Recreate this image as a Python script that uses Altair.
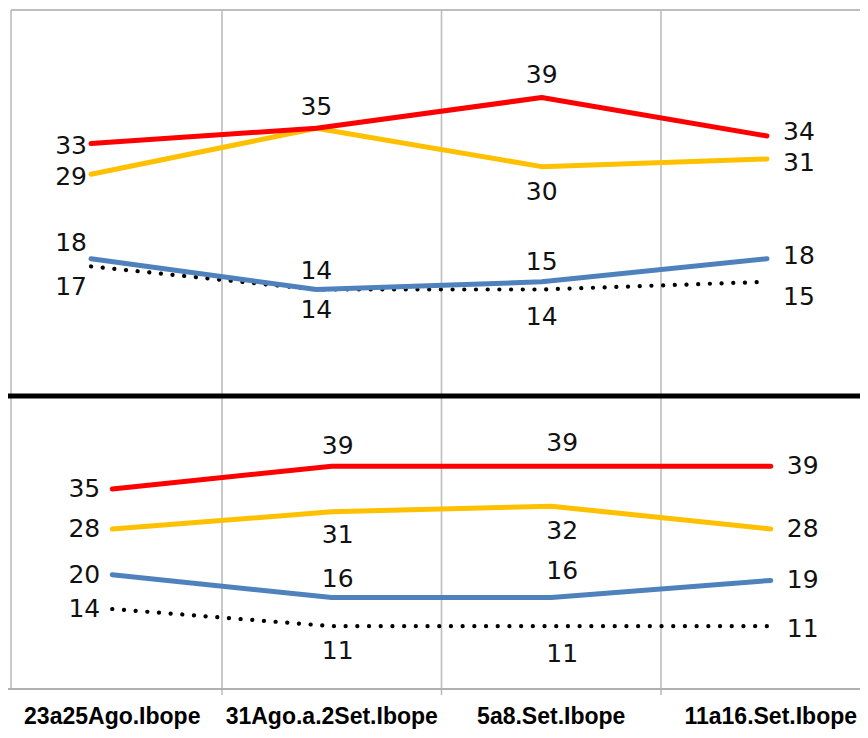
import altair as alt
import pandas as pd

# ---------------- data ----------------
CATEGORIES = ["23a25Ago.Ibope", "31Ago.a.2Set.Ibope", "5a8.Set.Ibope", "11a16.Set.Ibope"]
SERIES = ["red", "yellow", "blue", "dotted"]

TOP_RED = [33, 35, 39, 34]
TOP_YELLOW = [29, 35, 30, 31]
TOP_BLUE = [18, 14, 15, 18]
TOP_DOTTED = [17, 14, 14, 15]

BOTTOM_RED = [35, 39, 39, 39]
BOTTOM_YELLOW = [28, 31, 32, 28]
BOTTOM_BLUE = [20, 16, 16, 19]
BOTTOM_DOTTED = [14, 11, 11, 11]

PANELS = {
    "top": {"red": TOP_RED, "yellow": TOP_YELLOW, "blue": TOP_BLUE, "dotted": TOP_DOTTED},
    "bottom": {"red": BOTTOM_RED, "yellow": BOTTOM_YELLOW, "blue": BOTTOM_BLUE, "dotted": BOTTOM_DOTTED},
}

# ---------------- style / layout ----------------
COLORS = {"red": "#FF0000", "yellow": "#FFC000", "blue": "#4F81BD", "dotted": "#000000"}
GRID = "#BDBDBD"
W = 849            # plot width
H = 679            # both panels together
H_TOP = 387        # top panel height
LABEL_FONT = "DejaVu Sans"
LABEL_SIZE = 25

FIRST_DX = {"top": -4, "bottom": -12}
LAST_DX = 16
MID_DX = {"top": {1: 0, 2: 0}, "bottom": {1: 6, 2: 11}}
ABOVE = {"red", "blue"}
ABOVE_DY, BELOW_DY = -21, 25
NUDGE_DY = {
    ("top", "red", 0): 2, ("top", "yellow", 0): 3, ("top", "blue", 0): -16, ("top", "dotted", 0): 21,
    ("top", "red", 3): -4, ("top", "yellow", 3): 4, ("top", "blue", 3): -3, ("top", "dotted", 3): 15,
    ("top", "blue", 1): -19, ("top", "dotted", 1): 20,
    ("top", "red", 2): -23, ("top", "blue", 2): -20, ("top", "dotted", 2): 27,
    ("bottom", "red", 1): -20, ("bottom", "yellow", 1): 23, ("bottom", "blue", 1): -19,
    ("bottom", "red", 2): -23, ("bottom", "blue", 2): -27, ("bottom", "dotted", 2): 28,
    ("bottom", "dotted", 3): 3,
}
HIDDEN = {("top", "yellow", 1)}  # coincides with the red label


def placement(panel, series, i):
    if i == 0:
        align, dx, dy = "right", FIRST_DX[panel], 0
    elif i == len(CATEGORIES) - 1:
        align, dx, dy = "left", LAST_DX, 0
    else:
        align, dx = "center", MID_DX[panel][i]
        dy = ABOVE_DY if series in ABOVE else BELOW_DY
    dy = NUDGE_DY.get((panel, series, i), dy)
    return align, dx, dy


rows = []
for panel, ser in PANELS.items():
    for s in SERIES:
        for i, (c, v) in enumerate(zip(CATEGORIES, ser[s])):
            align, dx, dy = placement(panel, s, i)
            rows.append({"panel": panel, "series": s, "cat": c, "idx": i, "value": v,
                         "align": align, "dx": dx, "dy": dy,
                         "show": (panel, s, i) not in HIDDEN})
df = pd.DataFrame(rows)

# scales
band = alt.Scale(type="band", domain=CATEGORIES, range=[-8.5, 869.5], paddingInner=0, paddingOuter=0)
top_pts = alt.Scale(type="point", domain=CATEGORIES, range=[80, 756], padding=0)
Y_SCALES = {
    "top": alt.Scale(domain=[0, 50.4], range=[H_TOP, 0], nice=False, zero=True),
    "bottom": alt.Scale(domain=[0, 51.1], range=[H, H_TOP], nice=False, zero=True),
}
X_SCALES = {"top": top_pts, "bottom": band}

one = pd.DataFrame({"k": [0]})
grid_df = pd.DataFrame({"cat": CATEGORIES[1:]})
cat_df = pd.DataFrame({"cat": CATEGORIES})

layers = []

# vertical grid lines at category boundaries (with small ticks below the axis)
layers.append(alt.Chart(grid_df).mark_rule(color=GRID, strokeWidth=1.6).encode(
    x=alt.X("cat:N", bandPosition=0, scale=band, axis=None),
    y=alt.value(0), y2=alt.value(H + 6),
))
# frame: left border, top border, bottom axis line
layers.append(alt.Chart(one).mark_rule(color=GRID, strokeWidth=1.6).encode(
    x=alt.value(0), y=alt.value(0), y2=alt.value(H)))
layers.append(alt.Chart(one).mark_rule(color=GRID, strokeWidth=2).encode(
    x=alt.value(0), x2=alt.value(W), y=alt.value(0)))
layers.append(alt.Chart(one).mark_rule(color="#B0B0B0", strokeWidth=1.8).encode(
    x=alt.value(-3), x2=alt.value(W), y=alt.value(H)))


def panel_layers(panel):
    d = df[df.panel == panel]
    xs, ys = X_SCALES[panel], Y_SCALES[panel]
    out = []
    for s in ["dotted", "blue", "yellow", "red"]:
        sub = d[d.series == s]
        if s == "dotted":
            mk = alt.Chart(sub).mark_line(color=COLORS[s], strokeWidth=4.2, strokeDash=[0.1, 11.6],
                                          strokeCap="round")
        else:
            mk = alt.Chart(sub).mark_line(color=COLORS[s], strokeWidth=5, strokeCap="round",
                                          strokeJoin="round")
        out.append(mk.encode(
            x=alt.X("cat:N", scale=xs, axis=None),
            y=alt.Y("value:Q", scale=ys, axis=None),
            order=alt.Order("idx:Q"),
        ))
    lab = d[d.show]
    for (align, dx, dy), g in lab.groupby(["align", "dx", "dy"]):
        out.append(alt.Chart(g).mark_text(
            align=align, dx=float(dx), dy=float(dy), baseline="middle",
            font=LABEL_FONT, fontSize=LABEL_SIZE, color="#111111"
        ).encode(
            x=alt.X("cat:N", scale=xs, axis=None),
            y=alt.Y("value:Q", scale=ys, axis=None),
            text=alt.Text("value:Q"),
        ))
    return out


layers += panel_layers("top")
layers += panel_layers("bottom")

# thick black separator between the two panels
layers.append(alt.Chart(one).mark_rule(color="black", strokeWidth=5).encode(
    x=alt.value(-3), x2=alt.value(W), y=alt.value(H_TOP - 1)))

# category labels
layers.append(alt.Chart(cat_df).mark_text(
    font="Liberation Sans", fontWeight="bold", fontSize=23, color="#000000",
    baseline="alphabetic", align="center"
).encode(
    x=alt.X("cat:N", scale=band, axis=None),
    y=alt.value(H + 35),
    text="cat:N",
))

chart = alt.layer(*layers).resolve_scale(x="independent", y="independent").properties(
    width=W, height=H,
    autosize=alt.AutoSizeParams(type="none"),
    padding={"left": 3, "top": 2, "right": 0, "bottom": 41},
).configure(background="white").configure_view(stroke=None)

chart.save("out.html", embed_options={"renderer": "svg", "actions": False})
